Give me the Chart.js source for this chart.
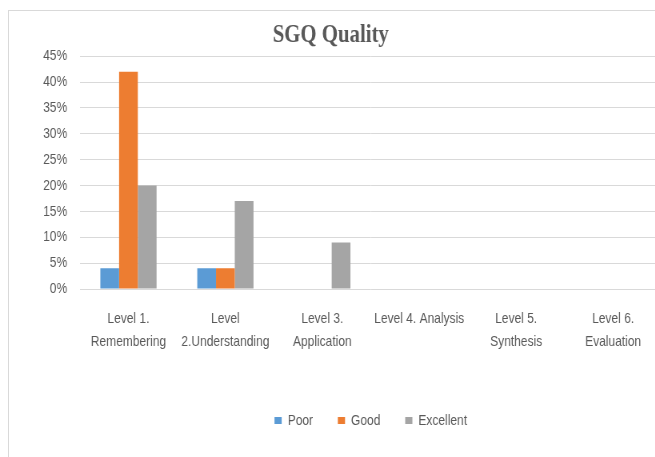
<!DOCTYPE html>
<html>
<head>
<meta charset="utf-8">
<script src="https://cdn.jsdelivr.net/npm/chart.js@4/dist/chart.umd.min.js"></script>
<style>
  html, body { margin: 0; padding: 0; background: #fff; overflow: hidden; width: 655px; height: 457px; }
  #frame { position: absolute; left: 8px; top: 10px; width: 700px; height: 500px;
           border-left: 1px solid #d9d9d9; border-top: 1px solid #d9d9d9; }
  /* the original picture is squeezed sideways, so the canvas is drawn wide and narrowed */
  #sgq { position: absolute; left: 0; top: 0; transform: scaleX(0.8); transform-origin: 0 0; }
</style>
</head>
<body>
<div id="frame"></div>
<canvas id="sgq" width="830" height="457"></canvas>
<script>
var levels = [
    ['Level 1.', 'Remembering'],
    ['Level', '2.Understanding'],
    ['Level 3.', 'Application'],
    'Level 4. Analysis',
    ['Level 5.', 'Synthesis'],
    ['Level 6.', 'Evaluation']
];
var poor = [4, 4, 0, 0, 0, 0];
var good = [42, 4, 0, 0, 0, 0];
var excellent = [20, 17, 9, 0, 0, 0];
var yTicks = [0, 5, 10, 15, 20, 25, 30, 35, 40, 45];

var textGrey = '#595959';

var ctx = document.getElementById('sgq').getContext('2d');
var chart = new Chart(ctx, {
    type: 'bar',
    data: {
        labels: levels,
        datasets: [
            { label: 'Poor', data: poor, backgroundColor: '#5B9BD5' },
            { label: 'Good', data: good, backgroundColor: '#ED7D31' },
            { label: 'Excellent', data: excellent, backgroundColor: '#A5A5A5' }
        ]
    },
    options: {
        responsive: false,
        animation: false,
        devicePixelRatio: 1,
        categoryPercentage: 0.58,
        barPercentage: 1.0,
        layout: { padding: { left: 0, right: 3, top: 0, bottom: 19 } },
        plugins: {
            title: {
                display: true,
                text: 'SGQ Quality',
                color: textGrey,
                font: { family: 'Liberation Serif', size: 26, weight: 'bold' },
                padding: { top: 20, bottom: 5 }
            },
            legend: {
                position: 'bottom',
                fullSize: false,
                labels: {
                    color: textGrey,
                    font: { family: 'Liberation Sans', size: 15 },
                    boxWidth: 9,
                    boxHeight: 7,
                    padding: 31
                }
            },
            tooltip: { enabled: false }
        },
        scales: {
            x: {
                grid: { display: false, drawTicks: false },
                border: { display: false },
                ticks: {
                    color: textGrey,
                    font: { family: 'Liberation Sans', size: 15, lineHeight: 1.53 },
                    padding: 18,
                    maxRotation: 0,
                    autoSkip: false
                },
                afterFit: function (scale) { scale.height = 93; }
            },
            y: {
                min: 0,
                max: 45,
                afterBuildTicks: function (scale) {
                    scale.ticks = yTicks.map(function (v) { return { value: v }; });
                },
                grid: { color: '#d9d9d9', drawTicks: false },
                border: { display: false },
                ticks: {
                    color: textGrey,
                    font: { family: 'Liberation Sans', size: 15 },
                    padding: 16,
                    callback: function (v) { return v + '%'; }
                },
                afterFit: function (scale) { scale.width = 100; }
            }
        }
    }
});
</script>
</body>
</html>
